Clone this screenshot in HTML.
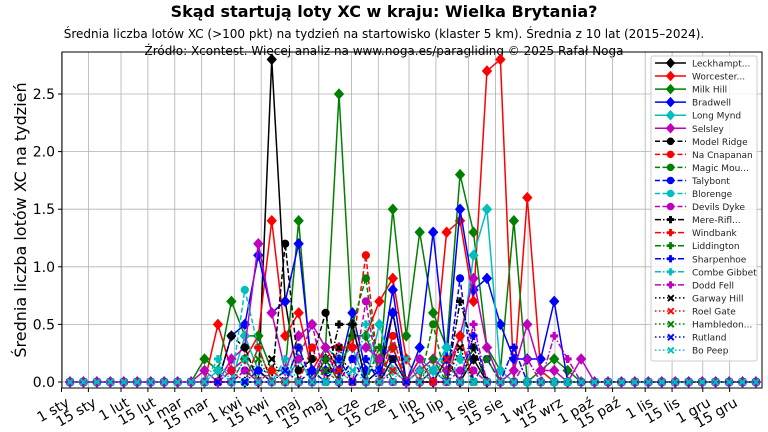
<!DOCTYPE html>
<html><head><meta charset="utf-8"><style>
body{margin:0;background:#fff;}
svg{display:block;font-family:"DejaVu Sans","Liberation Sans",sans-serif;}
</style></head><body>
<svg id="s" width="768" height="432" xmlns="http://www.w3.org/2000/svg">
<text x="384" y="17" text-anchor="middle" font-size="16" font-weight="bold">Skąd startują loty XC w kraju: Wielka Brytania?</text>
<text x="384" y="38" text-anchor="middle" font-size="12">Średnia liczba lotów XC (&gt;100 pkt) na tydzień na startowisko (klaster 5 km). Średnia z 10 lat (2015–2024).</text>
<text x="384" y="55" text-anchor="middle" font-size="12">Źródło: Xcontest. Więcej analiz na www.noga.es/paragliding © 2025 Rafał Noga</text>
<text transform="translate(26,220) rotate(-90)" text-anchor="middle" font-size="16">Średnia liczba lotów XC na tydzień</text>
<g id="grid"></g><g id="series"></g>
<rect x="62" y="52" width="700" height="336" fill="none" stroke="#000" stroke-width="1"/>
<g id="ticks"></g>
<g id="legend"></g>
</svg>
<script>
const NS="http://www.w3.org/2000/svg";
function el(t,a,p){const e=document.createElementNS(NS,t);for(const k in a)e.setAttribute(k,a[k]);if(p)p.appendChild(e);return e;}
const L=62,R=762,T=52,B=388;
const Y=v=>382-v*115.2, X=i=>70+13.45*i, XD=d=>61.5+d*1.92;
const g=document.getElementById('grid'),tk=document.getElementById('ticks');
const months=["sty","lut","mar","kwi","maj","cze","lip","sie","wrz","paź","lis","gru"];
const ml=[31,28,31,30,31,30,31,31,30,31,30,31];
let d=0;
for(let m=0;m<12;m++){
 for(const day of [1,15]){
  const x=XD(d+day-1);
  el('line',{x1:x,x2:x,y1:T,y2:B,stroke:'#b0b0b0','stroke-width':0.8},g);
  el('line',{x1:x,x2:x,y1:B,y2:B+4,stroke:'#000'},tk);
  const t=el('text',{transform:`translate(${x+4},${B+9}) rotate(-30)`,'text-anchor':'end','font-size':14,'dominant-baseline':'hanging'},tk);
  t.textContent=day+" "+months[m];
 }
 d+=ml[m];
}
for(let k=0;k<=5;k++){const y=Y(k*0.5);
 el('line',{x1:L,x2:R,y1:y,y2:y,stroke:'#b0b0b0','stroke-width':0.8},g);
 el('line',{x1:L-4,x2:L,y1:y,y2:y,stroke:'#000'},tk);
 const t=el('text',{x:L-7,y:y+5,'text-anchor':'end','font-size':14},tk);t.textContent=(k*0.5).toFixed(1);}
const cols=['#000','#f00','#008000','#00f','#00bfbf','#bf00bf'];
const names=["Leckhampt...","Worcester...","Milk Hill","Bradwell","Long Mynd","Selsley","Model Ridge","Na Cnapanan","Magic Mou...","Talybont","Blorenge","Devils Dyke","Mere-Rifl...","Windbank","Liddington","Sharpenhoe","Combe Gibbet","Dodd Fell","Garway Hill","Roel Gate","Hambledon...","Rutland","Bo Peep"];
const specific={
0:{15:2.8,16:0.7,19:0.2,21:0.5,23:0.1,24:0.6,28:0.2,30:0.2},
1:{11:0.5,12:0.1,13:0.2,14:0.4,15:1.4,16:0.4,17:0.6,18:0.1,19:0.3,20:0.1,21:0.4,22:0.4,23:0.7,24:0.9,25:0.2,27:0.1,28:1.3,29:1.4,30:0.7,31:2.7,32:2.8,33:0.0,34:1.6,35:0.1},
2:{10:0.2,11:0.1,12:0.7,13:0.4,14:0.4,15:0.1,16:0.1,17:1.4,18:0,19:0.3,20:2.5,21:0.4,22:0.4,23:0.1,24:1.5,25:0.4,26:1.3,27:0.6,28:0.3,29:1.8,30:1.3,31:0.3,32:0.1,33:1.4,34:0,35:0.1,36:0.2,37:0.1},
3:{12:0.4,13:0.5,14:1.1,15:0.6,16:0.7,17:1.2,18:0.1,19:0.1,20:0.1,21:0.6,22:0.1,23:0.1,24:0.8,25:0,26:0.3,27:1.3,28:0.2,29:1.5,30:0.8,31:0.9,32:0.5,33:0.2,34:0.2,35:0.2,36:0.7,37:0},
4:{13:0.4,14:0.1,17:0.2,19:0.3,20:0.2,21:0.3,23:0.5,24:0.1,26:0.2,27:0.1,28:0.3,29:0.2,30:1.1,31:1.5,32:0.1},
5:{10:0.1,12:0.2,13:0.3,14:1.2,15:0.6,16:0.1,17:0.4,18:0.5,19:0.3,20:0.3,21:0.3,22:0.3,23:0.2,24:0.3,26:0.1,27:0.2,28:0.1,29:0.4,30:0.9,31:0.3,33:0.1,34:0.5,35:0.1,36:0.1,38:0.2},
6:{12:0.4,13:0.3,16:1.2,17:0.1,18:0.2,19:0.6,21:0.5,24:0.6,28:0.2,30:0.3},
7:{13:0.1,15:0.1,18:0.3,20:0.3,21:0.3,22:1.1,24:0.4,26:0.2,29:0.4},
8:{14:0.3,17:0.3,21:0.5,22:0.9,24:0.3,27:0.5,30:0.3},
9:{13:0.1,14:0.1,18:0.1,21:0.2,24:0.6,29:0.9,31:0.2},
10:{11:0.1,13:0.8,14:0.3,16:0.1,20:0.2,24:0.1,28:0.3},
11:{12:0.1,13:0.2,17:0.2,18:0.5,22:0.7,26:0.2,29:0.1,30:0.1},
12:{20:0.5,21:0.5,24:0.2,29:0.7,30:0.3},
13:{14:0.3,22:0.2,24:0.3,26:0.1,29:0.4},
14:{13:0.2,19:0.2,23:0.3,27:0.2,31:0.2},
15:{14:0.1,17:0.3,20:0.2,22:0.2,24:0.2,28:0.2,30:0.4,33:0.3},
16:{11:0.2,16:0.2,22:0.5,26:0.1,29:0.2},
17:{13:0.1,19:0.3,30:0.5,34:0.2,36:0.4,37:0.2},
18:{15:0.2,20:0.3,24:0.2,29:0.3},
19:{12:0.1,20:0.1,24:0.1,28:0.2},
20:{14:0.2,19:0.1,27:0.1},
21:{16:0.1,23:0.1,27:0.1},
22:{11:0.1,13:0.2,21:0.1,25:0.2,27:0.1}
};
const sg=document.getElementById('series'),lg=document.getElementById('legend');
function marker(kind,x,y,c,parent,s){
 s=s||1;
 if(kind==0){el('polygon',{points:`${x},${y-5*s} ${x+4.5*s},${y} ${x},${y+5*s} ${x-4.5*s},${y}`,fill:c,stroke:c},parent);}
 else if(kind==1){el('circle',{cx:x,cy:y,r:3.6*s,fill:c,stroke:c},parent);}
 else if(kind==2){const a=1.6*s,b=4*s;el('path',{d:`M${x-a},${y-b}h${2*a}v${b-a}h${b-a}v${2*a}h${a-b}v${b-a}h${-2*a}v${a-b}h${a-b}v${-2*a}h${b-a}z`,fill:c},parent);}
 else{el('path',{d:`M${x-4*s},${y-2.5*s}l1.5,-1.5l2.5,2.5l2.5,-2.5l1.5,1.5l-2.5,2.5l2.5,2.5l-1.5,1.5l-2.5,-2.5l-2.5,2.5l-1.5,-1.5l2.5,-2.5z`,transform:`translate(${x},${y}) scale(${s}) translate(${-x},${-y})`,fill:c},parent);}
}
const dashes=[null,'5,2.5','6,2,1.5,2','1.5,2.5'];
for(let k=0;k<23;k++){
 const c=cols[k%6],kind=Math.floor(k/6)%4,da=dashes[Math.floor(k/6)];
 const pts=[];for(let i=0;i<52;i++){const v=(specific[k][i]||0);pts.push([X(i),Y(v)]);}
 const a={points:pts.map(p=>p.join(',')).join(' '),fill:'none',stroke:c,'stroke-width':1.5};
 if(da)a['stroke-dasharray']=da;
 el('polyline',a,sg);
 for(const p of pts)marker(kind,p[0],p[1],c,sg);
 const ly=63+13.05*k;
 const la={x1:655,x2:686,y1:ly,y2:ly,stroke:c,'stroke-width':1.5};if(da)la['stroke-dasharray']=da;
 el('line',la,lg);marker(kind,670.5,ly,c,lg,0.9);
 const t=el('text',{x:692,y:ly+3.5,'font-size':9,fill:'#222'},lg);t.textContent=names[k];
}
el('rect',{x:651,y:56,width:106,height:305,fill:'#fff','fill-opacity':0.8,stroke:'#ccc',rx:2},lg);
lg.insertBefore(lg.lastChild,lg.firstChild);
</script>
</body></html>
